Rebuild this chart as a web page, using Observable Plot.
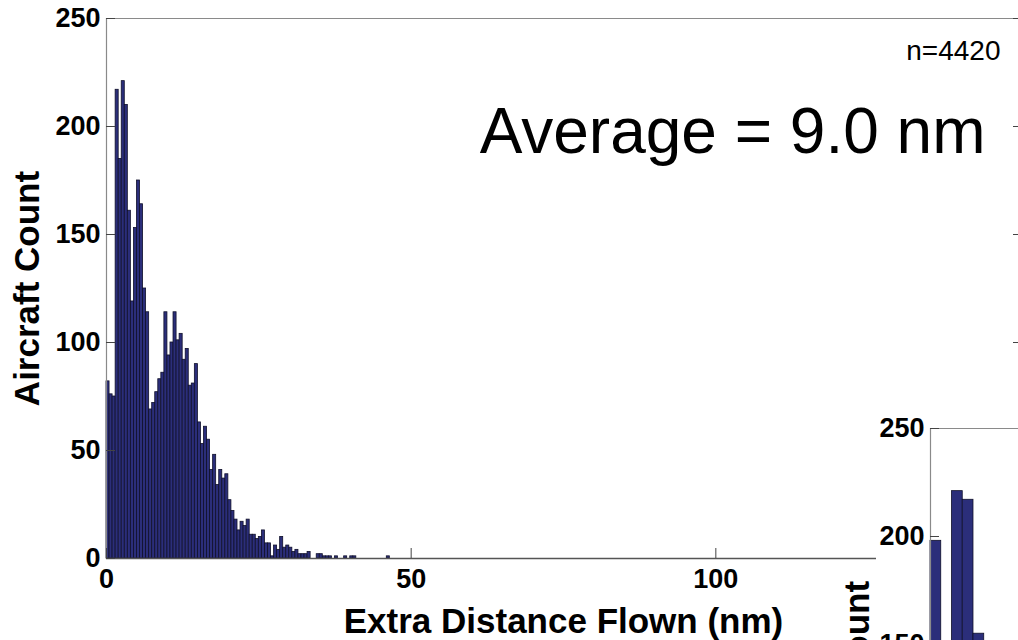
<!DOCTYPE html>
<html><head><meta charset="utf-8">
<script src="https://cdn.jsdelivr.net/npm/d3@7"></script>
<script src="https://cdn.jsdelivr.net/npm/@observablehq/plot@0.6"></script>
<style>
html,body{margin:0;padding:0;background:#fff;overflow:hidden;width:1018px;height:640px;}
#main{position:absolute;left:0;top:0;}
#cover{position:absolute;left:876px;top:410px;width:200px;height:260px;background:#fff;}
#inset{position:absolute;left:824px;top:410px;}
#main svg, #inset svg{max-width:none !important;}
</style></head><body>
<div id="main"></div><div id="cover"></div><div id="inset"></div>
<script>
// ---- data ----
const binWidth = 0.5; // nm per bin
const counts = [
  82, 76, 75, 217, 185, 221, 210, 161, 119, 153,
  175, 164, 125, 114, 69, 72, 77, 83, 86, 114,
  94, 100, 114, 101, 104, 92, 97, 80, 81, 90,
  63, 53, 61, 55, 41, 48, 34, 41, 37, 39,
  27, 22, 18, 13, 17, 15, 18, 11, 11, 9,
  10, 13, 7, 7, 1, 6, 4, 10, 5, 6,
  5, 3, 4, 2, 2, 2, 3, 0, 0, 2,
  2, 1, 1, 1, 0, 1, 0, 0, 1, 0,
  1, 1, 0, 0, 0, 0, 0, 0, 0, 0,
  0, 0, 1
];
const yTicks = [0, 50, 100, 150, 200, 250];
const xTicks = [0, 50, 100];
const insetCounts = [198, null, 221, 217, 155];
const insetYTicks = [150, 200, 250];
const nLabel = "n=4420";
const avgLabel = "Average = 9.0 nm";
const xLabel = "Extra Distance Flown (nm)";
const yLabel = "Aircraft Count";

// ---- build ----
const bins = counts.map((c, i) => ({x1: i * binWidth, x2: (i + 1) * binWidth, y: c})).filter(d => d.y > 0);
const insetBins = insetCounts.map((c, i) => ({x1: i * binWidth, x2: (i + 1) * binWidth, y: c})).filter(d => d.y != null && d.y > 0);

const FONT = "'Liberation Sans', Arial, Helvetica, sans-serif";
const barFill = "#2b2e7a", barStroke = "#10102a";
const axisGray = "#8a8a8a", tickCol = "#444";

const W = 1040, ML = 106, MR = 20;
const plotW = W - ML - MR;
const plotH = 540;

const main = Plot.plot({
  width: W, height: 660,
  marginLeft: ML, marginRight: MR, marginTop: 18, marginBottom: 102,
  style: {fontFamily: FONT, fontWeight: "bold", background: "transparent", color: "#000", overflow: "visible", maxWidth: "none"},
  x: {domain: [0, 150], axis: null},
  y: {domain: [0, 250], axis: null},
  marks: [
    Plot.rectY(bins, {x1: "x1", x2: "x2", y: "y", fill: barFill, stroke: barStroke, strokeWidth: 0.8}),
    Plot.ruleX([0], {stroke: axisGray, strokeWidth: 1.2}),
    Plot.ruleY([250], {stroke: axisGray, strokeWidth: 1.2}),
    Plot.ruleY([0], {stroke: "#555", strokeWidth: 1.5}),
    Plot.tickY(yTicks, {y: d => d, insetRight: plotW - 9, stroke: tickCol}),
    Plot.tickY(yTicks, {y: d => d, insetLeft: plotW - 7, stroke: tickCol}),
    Plot.tickX(xTicks, {x: d => d, insetTop: plotH - 10, stroke: tickCol}),
    Plot.axisY({ticks: yTicks, tickSize: 0, tickPadding: 6, fontSize: 27, label: null, tickFormat: d => String(d)}),
    Plot.axisX({ticks: xTicks, tickSize: 0, tickPadding: 10, fontSize: 27, label: null, tickFormat: d => String(d)}),
    Plot.text([yLabel], {text: d => d, frameAnchor: "left", dx: -68, rotate: -90, textAnchor: "middle", lineAnchor: "bottom", fontSize: 35, fontWeight: "bold"}),
    Plot.text([xLabel], {text: d => d, frameAnchor: "bottom", dy: 74, lineAnchor: "bottom", fontSize: 35, fontWeight: "bold"}),
    Plot.text([nLabel], {text: d => d, frameAnchor: "top-right", dx: -20, dy: 41, lineAnchor: "bottom", textAnchor: "end", fontSize: 28, fontWeight: "normal"}),
    Plot.text([avgLabel], {text: d => d, frameAnchor: "top-right", dx: -35, dy: 134, lineAnchor: "bottom", textAnchor: "end", fontSize: 64, fontWeight: "normal"})
  ]
});
document.getElementById("main").appendChild(main);

const inset = Plot.plot({
  width: W, height: 600,
  marginLeft: ML, marginRight: W - ML - 913.5, marginTop: 18, marginBottom: 42,
  style: {fontFamily: FONT, fontWeight: "bold", background: "transparent", color: "#000", overflow: "visible", maxWidth: "none"},
  x: {domain: [0, 42.5], axis: null},
  y: {domain: [0, 250], axis: null},
  marks: [
    Plot.rectY(insetBins, {x1: "x1", x2: "x2", y: "y", fill: barFill, stroke: barStroke, strokeWidth: 0.8}),
    Plot.ruleX([0], {stroke: axisGray, strokeWidth: 1.2}),
    Plot.ruleY([250], {stroke: axisGray, strokeWidth: 1.2}),
    Plot.tickY(insetYTicks, {y: d => d, insetRight: 913.5 - 9, stroke: tickCol}),
    Plot.axisY({ticks: insetYTicks, tickSize: 0, tickPadding: 6, fontSize: 27, label: null, tickFormat: d => String(d)}),
    Plot.text([yLabel], {text: d => d, frameAnchor: "left", dx: -62, rotate: -90, textAnchor: "middle", lineAnchor: "bottom", fontSize: 35, fontWeight: "bold"})
  ]
});
document.getElementById("inset").appendChild(inset);
</script>
</body></html>
